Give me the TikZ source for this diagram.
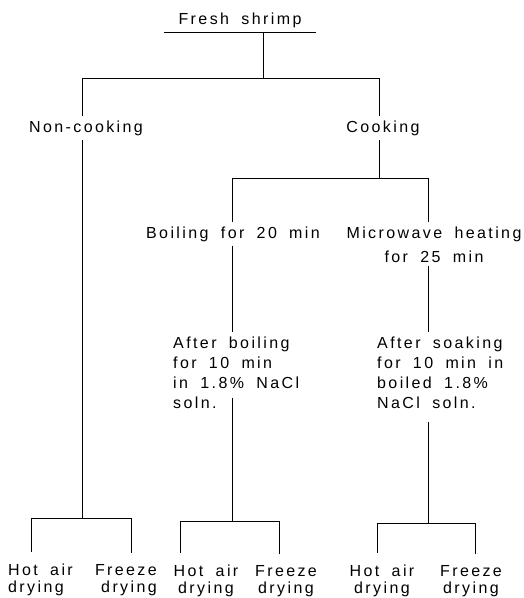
\documentclass[tikz,border=0pt]{standalone}
\usepackage{fontspec}
\setmainfont{Liberation Sans}[LetterSpace=15, WordSpace=1.8]
\usetikzlibrary{positioning, calc}

\begin{document}
\begin{tikzpicture}[x=1pt, y=-1pt,
      stage/.style={inner xsep=0pt, inner ysep=4pt,
        font=\fontsize{16}{20}\selectfont},
      root/.style={stage, inner xsep=14pt, inner ysep=4.5pt},
      leaf/.style={inner xsep=0pt, inner ysep=11pt,
        font=\fontsize{16}{17}\selectfont},
      branch/.style={line width=1pt}
    ]
      \useasboundingbox (0,0) rectangle (523,598);
      % top of the tree
      \node[root, anchor=base] (fresh) at (240,24) {Fresh shrimp};
      \node[stage, anchor=base] (noncook) at (86,132) {Non-cooking};
      \node[stage, anchor=base] (cook) at (383,132) {Cooking};
      \coordinate (split) at (263,78);
      \coordinate (splitL) at (82,78);
      \coordinate (splitR) at (379,78);
      \draw[branch] (fresh.south west) -- (fresh.south east);
      \draw[branch] (fresh.south -| split) -- (split);
      \draw[branch] (noncook.north -| splitL) -- (splitL) -- (splitR)
        -- (cook.north -| splitR);

      % cooking branch (base of a multi-line node = its last line)
      \node[stage, anchor=base] (boil) at (233,238) {Boiling for 20 min};
      \node[stage, anchor=base, align=center,
        font=\fontsize{16}{24}\selectfont] (micro) at (434,262)
        {Microwave heating\\for 25 min};
      \coordinate (cookL) at (232,178);
      \coordinate (cookR) at (428,178);
      \draw[branch] (cook.south -| splitR) -- (splitR |- cookL);
      \draw[branch] (boil.north -| cookL) -- (cookL) -- (cookR)
        -- (micro.north -| cookR);

      \node[stage, anchor=base west, align=left] (afterboil) at (173,408)
        {After boiling\\for 10 min\\in 1.8\% NaCl\\soln.};
      \node[stage, anchor=base west, align=left] (aftersoak) at (377,408)
        {After soaking\\for 10 min in\\boiled 1.8\%\\NaCl soln.};
      \draw[branch] (boil.south -| cookL) -- (afterboil.north -| cookL);
      \draw[branch] (micro.south -| cookR) -- (aftersoak.north -| cookR);

      % drying
      \coordinate (dryA) at (82,518);
      \coordinate (dryA1) at (31,518);
      \coordinate (dryA2) at (131,518);
      \coordinate (dryB) at (232,521);
      \coordinate (dryB1) at (180,521);
      \coordinate (dryB2) at (279,521);
      \coordinate (dryC) at (428,523);
      \coordinate (dryC1) at (377,523);
      \coordinate (dryC2) at (475,523);

      \node[leaf, anchor=base west, align=left] (hotA) at (8,592)
        {Hot air\\drying};
      \node[leaf, anchor=base east, align=right] (frzA) at (157,592)
        {Freeze\\drying};
      \node[leaf, anchor=base, align=center] (hotB) at (206,593)
        {Hot air\\drying};
      \node[leaf, anchor=base, align=center] (frzB) at (286,593)
        {Freeze\\drying};
      \node[leaf, anchor=base, align=center] (hotC) at (382,593)
        {Hot air\\drying};
      \node[leaf, anchor=base, align=center] (frzC) at (471,593)
        {Freeze\\drying};

      \draw[branch] (noncook.south -| splitL) -- (dryA);
      \draw[branch] ($(afterboil.south -| cookL)+(0,-14)$) -- (dryB);
      \draw[branch] ($(aftersoak.south -| cookR)+(0,10)$) -- (dryC);
      \draw[branch] (hotA.north -| dryA1) -- (dryA1) -- (dryA2)
        -- (frzA.north -| dryA2);
      \draw[branch] (hotB.north -| dryB1) -- (dryB1) -- (dryB2)
        -- (frzB.north -| dryB2);
      \draw[branch] (hotC.north -| dryC1) -- (dryC1) -- (dryC2)
        -- (frzC.north -| dryC2);
    \end{tikzpicture}
\end{document}
